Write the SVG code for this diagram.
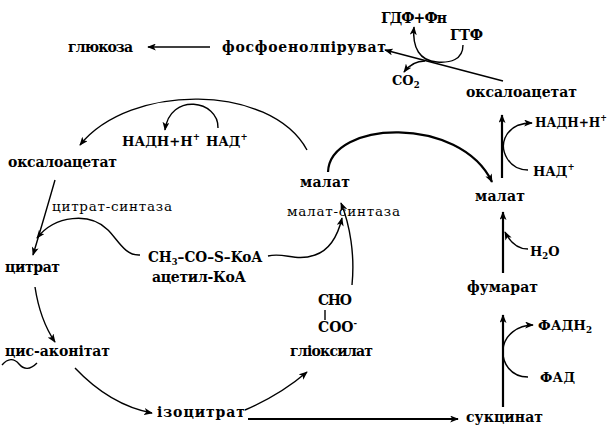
<svg xmlns="http://www.w3.org/2000/svg" width="614" height="430" viewBox="0 0 614 430">
<defs>
<marker id="ah" viewBox="0 0 10 8" refX="9" refY="4" markerWidth="9" markerHeight="7" markerUnits="userSpaceOnUse" orient="auto">
<path d="M0,0 L10,4 L0,8 L2.5,4 z" fill="#000"/>
</marker>
<style>
.b{font-family:"DejaVu Serif","Liberation Serif",serif;font-weight:bold;font-size:14px;fill:#000}
.k{font-size:13px}
.r{font-family:"DejaVu Serif","Liberation Serif",serif;font-size:13.5px;fill:#000}
.s{font-size:8.5px}
.c{fill:none;stroke:#000;stroke-width:1.4}
.t{fill:none;stroke:#000;stroke-width:2.2}
.a{marker-end:url(#ah)}
</style>
</defs>
<rect width="614" height="430" fill="#fff"/>
<g id="connectors">
<path class="c a" d="M210,47 L148,47"/>
<path class="c a" d="M503,81 L385,50"/>
<path class="c a" d="M463,45 C463,60 450,63 437,62 C420,61 412,48 414,27"/>
<path class="c a" d="M425,61 C418,61 410,64 404,72"/>
<path class="c a" d="M307,150 C270,83 130,83 80,145"/>
<path class="c a" d="M218,128 C219,100 170,92 165,130"/>
<path class="c a" d="M55,180 Q45,215 33,255"/>
<path class="c a" d="M140,255 C125,256 118,240 108,230 C90,212 55,215 37,238"/>
<path class="c a" d="M35,287 Q40,320 55,342"/>
<path class="c" d="M2,365 C8,358 14,358 19,364 C24,370 30,370 37,363"/>
<path class="c a" d="M75,368 Q110,405 152,413"/>
<path class="t a" d="M248,419 L458,419"/>
<path class="c a" d="M245,410 Q280,395 307,372"/>
<path class="c a" d="M352,285 C355,255 350,225 341,203"/>
<path class="c a" d="M268,256 C285,252 295,262 315,255 C330,250 338,235 342,218"/>
<path class="t a" d="M328,172 C330,120 460,115 492,182"/>
<path class="t a" d="M502,178 L502,115"/>
<path class="c a" d="M528,170 C508,170 500,150 505,138 C510,126 520,123 532,123"/>
<path class="t a" d="M503,273 L503,212"/>
<path class="c a" d="M528,249 C518,249 510,242 505,232"/>
<path class="t a" d="M503,407 L503,315"/>
<path class="c a" d="M528,377 C510,377 502,362 503,350 C504,335 518,325 533,325"/>
<path class="c" d="M325,310 L325,320"/>
</g>
<g id="glucose"><text class="b" x="68" y="52" textLength="65">глюкоза</text></g>
<g id="pep"><text class="b" x="222" y="52" textLength="164">фосфоенолпіруват</text></g>
<g id="gdp"><text class="b" x="381" y="23" textLength="66">ГДФ+Фн</text></g>
<g id="gtp"><text class="b" x="450" y="40" textLength="33">ГТФ</text></g>
<g id="co2"><text class="b k" x="392" y="85">CO<tspan class="s" dy="3">2</tspan></text></g>
<g id="oaa-top"><text class="b" x="466" y="97" textLength="111">оксалоацетат</text></g>
<g id="nadh-left"><text class="b k" x="122" y="146" textLength="78" lengthAdjust="spacingAndGlyphs">НАДН+Н<tspan class="s" dy="-6">+</tspan></text></g>
<g id="nad-left"><text class="b k" x="206" y="146">НАД<tspan class="s" dy="-6">+</tspan></text></g>
<g id="oaa-left"><text class="b" x="8" y="167" textLength="109">оксалоацетат</text></g>
<g id="citrate-synthase"><text class="r" x="52" y="211" textLength="120">цитрат-синтаза</text></g>
<g id="citrate"><text class="b" x="5" y="272" textLength="55">цитрат</text></g>
<g id="acetyl"><text class="b" x="148" y="262" textLength="114" lengthAdjust="spacingAndGlyphs">CH<tspan class="s" dy="3">3</tspan><tspan dy="-3">–CO–S–KoA</tspan></text>
<text class="b" x="152" y="282" textLength="94">ацетил-КоА</text></g>
<g id="cis-aconitate"><text class="b" x="5" y="356" textLength="105">цис-аконітат</text></g>
<g id="isocitrate"><text class="b" x="157" y="417" textLength="88">ізоцитрат</text></g>
<g id="glyoxylate"><text class="b" x="318" y="305" textLength="34">CHO</text>
<text class="b" x="318" y="332">COO<tspan class="s" dy="-6">-</tspan></text>
<text class="b" x="290" y="356" textLength="83">гліоксилат</text></g>
<g id="malate-mid"><text class="b" x="300" y="187" textLength="50">малат</text></g>
<g id="malate-synthase"><text class="r" x="287" y="216" textLength="113">малат-синтаза</text></g>
<g id="malate-right"><text class="b" x="475" y="201" textLength="50">малат</text></g>
<g id="nadh-right"><text class="b k" x="535" y="127" textLength="72" lengthAdjust="spacingAndGlyphs">НАДН+Н<tspan class="s" dy="-6">+</tspan></text></g>
<g id="nad-right"><text class="b k" x="533" y="176">НАД<tspan class="s" dy="-6">+</tspan></text></g>
<g id="h2o"><text class="b k" x="530" y="256">H<tspan class="s" dy="3">2</tspan><tspan dy="-3">O</tspan></text></g>
<g id="fumarate"><text class="b" x="467" y="292" textLength="71">фумарат</text></g>
<g id="fadh2"><text class="b k" x="538" y="330" textLength="54" lengthAdjust="spacingAndGlyphs">ФАДН<tspan class="s" dy="3">2</tspan></text></g>
<g id="fad"><text class="b k" x="540" y="382" textLength="35">ФАД</text></g>
<g id="succinate"><text class="b" x="466" y="422" textLength="77">сукцинат</text></g>
</svg>
